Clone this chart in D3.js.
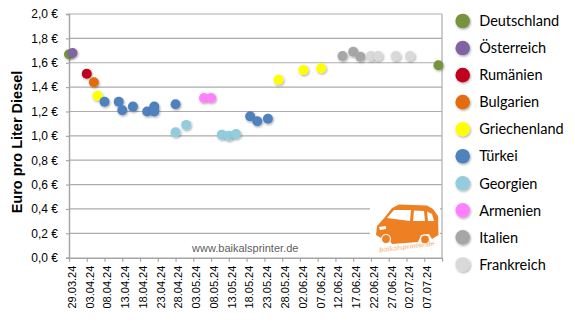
<!DOCTYPE html>
<html>
<head>
<meta charset="utf-8">
<script src="https://cdn.jsdelivr.net/npm/d3@7"></script>
<style>
  body { margin: 0; background: #fff; }
  svg { display: block; }
  text { font-family: "Liberation Sans", Arial, sans-serif; }
</style>
</head>
<body>
<svg id="chart" width="575" height="322"></svg>
<script>
// countries in legend / series order
const countries = ['Deutschland', 'Österreich', 'Rumänien', 'Bulgarien', 'Griechenland',
  'Türkei', 'Georgien', 'Armenien', 'Italien', 'Frankreich'];
const countryColors = ['#77933C', '#8064A2', '#C0001A', '#E46C0A', '#FFFF00',
  '#4F81BD', '#93CDDD', '#FF80FF', '#A6A6A6', '#D9D9D9'];

// fuel stops: date, price per litre, country
const stopDates = [
  '29.03.24', '11.07.24',
  '30.03.24',
  '03.04.24',
  '05.04.24',
  '06.04.24', '27.05.24', '03.06.24', '08.06.24',
  '08.04.24', '12.04.24', '13.04.24', '16.04.24', '20.04.24', '22.04.24', '22.04.24', '28.04.24',
  '19.05.24', '21.05.24', '24.05.24',
  '28.04.24', '01.05.24', '11.05.24', '13.05.24', '15.05.24',
  '06.05.24', '08.05.24',
  '14.06.24', '17.06.24', '19.06.24',
  '22.06.24', '24.06.24', '29.06.24', '03.07.24'
];
const stopPrices = [
  1.67, 1.58,
  1.68,
  1.51,
  1.44,
  1.33, 1.46, 1.54, 1.555,
  1.28, 1.28, 1.21, 1.24, 1.20, 1.24, 1.20, 1.26,
  1.16, 1.12, 1.14,
  1.03, 1.09, 1.01, 1.00, 1.015,
  1.31, 1.31,
  1.655, 1.69, 1.65,
  1.655, 1.655, 1.655, 1.655
];
const stopCountries = [
  'Deutschland', 'Deutschland',
  'Österreich',
  'Rumänien',
  'Bulgarien',
  'Griechenland', 'Griechenland', 'Griechenland', 'Griechenland',
  'Türkei', 'Türkei', 'Türkei', 'Türkei', 'Türkei', 'Türkei', 'Türkei', 'Türkei',
  'Türkei', 'Türkei', 'Türkei',
  'Georgien', 'Georgien', 'Georgien', 'Georgien', 'Georgien',
  'Armenien', 'Armenien',
  'Italien', 'Italien', 'Italien',
  'Frankreich', 'Frankreich', 'Frankreich', 'Frankreich'
];

const xTickLabels = ['29.03.24', '03.04.24', '08.04.24', '13.04.24', '18.04.24', '23.04.24',
  '28.04.24', '03.05.24', '08.05.24', '13.05.24', '18.05.24', '23.05.24', '28.05.24',
  '02.06.24', '07.06.24', '12.06.24', '17.06.24', '22.06.24', '27.06.24', '02.07.24', '07.07.24'];
const xAxisEnd = '12.07.24';
const yTickValues = [0, 0.2, 0.4, 0.6, 0.8, 1.0, 1.2, 1.4, 1.6, 1.8, 2.0];

const parseDate = d3.timeParse('%d.%m.%y');
const svg = d3.select('#chart');

const x = d3.scaleTime()
  .domain([parseDate(xTickLabels[0]), parseDate(xAxisEnd)])
  .range([69, 442]);
const y = d3.scaleLinear().domain([0, 2]).range([257.7, 14]);
const color = d3.scaleOrdinal().domain(countries).range(countryColors);

// soft marker shadow like the spreadsheet export
const defs = svg.append('defs');
defs.append('filter')
  .attr('id', 'shadow')
  .attr('x', '-50%').attr('y', '-50%').attr('width', '200%').attr('height', '200%')
  .append('feDropShadow')
  .attr('dx', 0.8).attr('dy', 1.2).attr('stdDeviation', 0.9)
  .attr('flood-color', '#000').attr('flood-opacity', 0.35);

// gridlines
svg.append('g')
  .selectAll('line')
  .data(yTickValues.slice(1))
  .join('line')
  .attr('x1', x.range()[0]).attr('x2', x.range()[1])
  .attr('y1', d => y(d)).attr('y2', d => y(d))
  .attr('stroke', '#ADADAD').attr('stroke-width', 1.2);

// right border of plot area
svg.append('line')
  .attr('x1', x.range()[1]).attr('x2', x.range()[1])
  .attr('y1', y(2)).attr('y2', y(0))
  .attr('stroke', '#ADADAD').attr('stroke-width', 1.2);

// y axis
const yAxis = svg.append('g')
  .attr('transform', `translate(${x.range()[0]},0)`)
  .call(d3.axisLeft(y)
    .tickValues(yTickValues)
    .tickSize(3)
    .tickPadding(8)
    .tickFormat(d => d3.format('.1f')(d).replace('.', ',') + ' €'));
yAxis.select('.domain').attr('stroke', '#A6A6A6').attr('stroke-width', 1.5);
yAxis.selectAll('.tick line').attr('stroke', '#A6A6A6').attr('stroke-width', 1.2);
yAxis.selectAll('.tick text')
  .attr('font-size', 12).attr('fill', '#000')
  .style('font-family', '"Liberation Sans", Arial, sans-serif');

// x axis
const xTicks = xTickLabels.concat([xAxisEnd]).map(parseDate);
const xAxis = svg.append('g')
  .attr('transform', `translate(0,${y(0)})`)
  .call(d3.axisBottom(x)
    .tickValues(xTicks)
    .tickSize(4)
    .tickSizeOuter(0)
    .tickFormat(d => {
      const s = d3.timeFormat('%d.%m.%y')(d);
      return xTickLabels.includes(s) ? s : '';
    }));
xAxis.select('.domain').attr('stroke', '#A6A6A6').attr('stroke-width', 1.5);
xAxis.selectAll('.tick line').attr('stroke', '#A6A6A6').attr('stroke-width', 1.2);
xAxis.selectAll('.tick text')
  .attr('font-size', 11).attr('fill', '#000')
  .style('font-family', '"Liberation Sans", Arial, sans-serif')
  .attr('transform', 'rotate(-90)')
  .attr('text-anchor', 'end')
  .attr('x', -8)
  .attr('y', 2.5)
  .attr('dy', '0.35em');

// y axis title
svg.append('text')
  .attr('transform', 'translate(22,142) rotate(-90)')
  .attr('text-anchor', 'middle')
  .attr('font-size', 14.5)
  .attr('font-weight', 'bold')
  .text('Euro pro Liter Diesel');

// watermark
svg.append('text')
  .attr('x', 192).attr('y', 252)
  .attr('font-size', 11)
  .attr('fill', '#606060')
  .text('www.baikalsprinter.de');

// logo (white box + orange van)
const logo = svg.append('g');
logo.append('rect')
  .attr('x', 370).attr('y', 202).attr('width', 70).attr('height', 52)
  .attr('fill', '#fff');
const orange = '#EE7F22';
logo.append('path')
  .attr('d', 'M377,226 L385,217 L392,208 L399,204.5 L427,205.5 L433,209 L438,216 L438.5,235 ' +
    'L432,239 L429,234 L421,235 L418,242 L392,244 L388,238 L381,238 L376,235 Z')
  .attr('fill', orange);
logo.append('path')
  .attr('d', 'M387,218 L394,210 L411,210 L410,221 Z')
  .attr('fill', '#fff');
logo.append('path')
  .attr('d', 'M414,210.5 L424,211 L425,221 L413,221 Z')
  .attr('fill', '#fff');
logo.append('path')
  .attr('d', 'M427,211.5 L432,214 L434,221 L428,221 Z')
  .attr('fill', '#fff');
logo.append('path')
  .attr('d', 'M379,227 L386,226 L386,229 L380,230 Z')
  .attr('fill', '#fff');
logo.selectAll('circle.wheel')
  .data([[386, 239], [425, 239.5]])
  .join('circle')
  .attr('class', 'wheel')
  .attr('cx', d => d[0]).attr('cy', d => d[1])
  .attr('r', 4.5)
  .attr('fill', orange)
  .attr('stroke', '#fff').attr('stroke-width', 1.2);
logo.append('text')
  .attr('transform', 'translate(407,249) rotate(-7)')
  .attr('text-anchor', 'middle')
  .attr('font-size', 7)
  .attr('font-weight', 'bold')
  .attr('font-style', 'italic')
  .attr('fill', orange)
  .attr('stroke', '#fff').attr('stroke-width', 0.4)
  .text('baikalsprinter.de');

// points, drawn in series order so later countries sit on top
const stops = stopDates.map((d, i) => ({
  date: parseDate(d),
  price: stopPrices[i],
  country: stopCountries[i]
}));
stops.sort((a, b) => countries.indexOf(a.country) - countries.indexOf(b.country));

svg.append('g')
  .selectAll('circle')
  .data(stops)
  .join('circle')
  .attr('cx', d => x(d.date))
  .attr('cy', d => y(d.price))
  .attr('r', 5)
  .attr('fill', d => color(d.country))
  .attr('filter', 'url(#shadow)');

// legend
const legend = svg.append('g')
  .selectAll('g')
  .data(countries)
  .join('g')
  .attr('transform', (d, i) => `translate(462.7,${21 + i * 27.05})`);
legend.append('circle')
  .attr('r', 7.3)
  .attr('fill', d => color(d))
  .attr('filter', 'url(#shadow)');
legend.append('text')
  .attr('x', 16.5)
  .attr('dy', '0.36em')
  .attr('font-size', 14.5)
  .style('font-family', 'Lato, "Open Sans", sans-serif')
  .text(d => d);
</script>
</body>
</html>
